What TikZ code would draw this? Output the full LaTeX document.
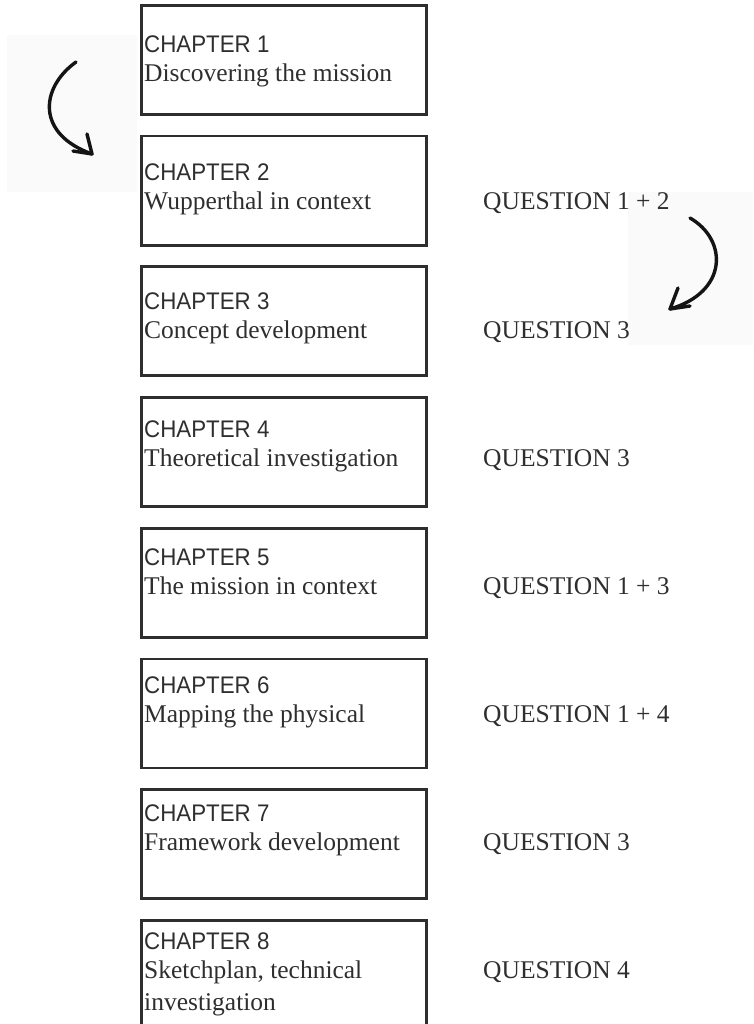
\documentclass[tikz,border=0pt]{standalone}
\usepackage{fontspec}
\setmainfont{Liberation Serif}
\newfontfamily\chapfont[FakeStretch=0.93]{Liberation Sans}
\definecolor{ink}{HTML}{2E2E2E}
\definecolor{paper}{HTML}{FAFAFA}
\begin{document}
\begin{tikzpicture}[x=1pt,y=-1pt,
  chapbox/.style={draw=ink, line width=2.8pt, minimum width=284.5pt, minimum height=109pt, anchor=north west, inner sep=0pt},
  chaplabel/.style={anchor=base west, inner sep=0pt, text=ink, font=\chapfont\fontsize{24}{28}\selectfont},
  titlelabel/.style={anchor=base west, inner sep=0pt, text=ink, font=\fontsize{25.5}{30}\selectfont},
  qlabel/.style={titlelabel},
  sketch/.style={line width=3.4pt, line cap=round, line join=round, draw=black!92},
  pastebg/.style={fill=paper}
]
\useasboundingbox (0,0) rectangle (753,1024);
% pasted sketch backgrounds
\fill[pastebg] (7,35) rectangle (137,192);
\fill[pastebg] (628,192) rectangle (753,345);

% boxes
\foreach \i in {1,...,8}{
  \pgfmathsetmacro{\top}{4+130.7*(\i-1)}
  \pgfmathsetmacro{\cb}{53+128*(\i-1)}
  \node[chapbox] (box\i) at (140.3,\top) {};
  \node[chaplabel] (ch\i) at (144,\cb) {CHAPTER \i};
}
% titles
\node[titlelabel] (t1) at (144,82) {Discovering the mission};
\node[titlelabel] (t2) at (144,210) {Wupperthal in context};
\node[titlelabel] (t3) at (144,338) {Concept development};
\node[titlelabel] (t4) at (144,466) {Theoretical investigation};
\node[titlelabel] (t5) at (144,594) {The mission in context};
\node[titlelabel] (t6) at (144,722) {Mapping the physical};
\node[titlelabel] (t7) at (144,850) {Framework development};
\node[titlelabel] (t8) at (144,978) {Sketchplan, technical};
\node[titlelabel] (t8b) at (144,1010) {investigation};
% questions
\node[qlabel] (q2) at (483,210) {QUESTION 1 + 2};
\node[qlabel] (q3) at (483,338) {QUESTION 3};
\node[qlabel] (q4) at (483,466) {QUESTION 3};
\node[qlabel] (q5) at (483,594) {QUESTION 1 + 3};
\node[qlabel] (q6) at (483,722) {QUESTION 1 + 4};
\node[qlabel] (q7) at (483,850) {QUESTION 3};
\node[qlabel] (q8) at (483,978) {QUESTION 4};

% left hand-drawn arrow
\coordinate (las) at (76,62);
\coordinate (lae) at (92,154);
\coordinate (lah1) at (87,134);
\coordinate (lah2) at (73,151);
\draw[sketch] (las) .. controls (40,88) and (36,134) .. (lae);
\draw[sketch] (lah1) -- (lae) -- (lah2);

% right hand-drawn arrow
\coordinate (ras) at (690,218);
\coordinate (rae) at (670,309);
\coordinate (rah1) at (678,288);
\coordinate (rah2) at (690,306);
\draw[sketch] (ras) .. controls (728,240) and (728,292) .. (rae);
\draw[sketch] (rah1) -- (rae) -- (rah2);
\end{tikzpicture}
\end{document}
